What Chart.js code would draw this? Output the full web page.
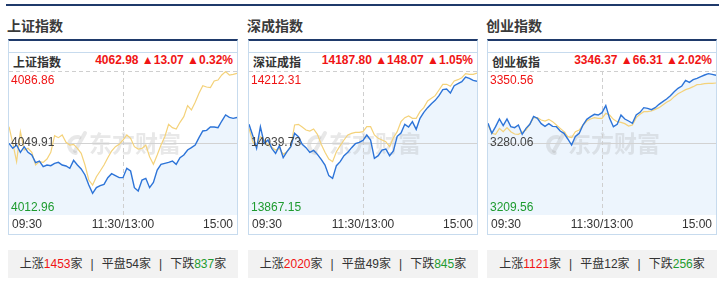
<!DOCTYPE html>
<html>
<head>
<meta charset="utf-8">
<script src="https://cdn.jsdelivr.net/npm/chart.js@4"></script>
<style>
    body { margin: 0; width: 719px; height: 289px; background: #fff; position: relative; overflow: hidden;
           font-family: "Liberation Sans", Arial, "Noto Sans CJK SC", sans-serif; color: #333; }
    #topline { position: absolute; left: 6px; top: 4px; width: 713px; height: 2px; background: #1f3a6b; }
    .block { position: absolute; top: 0; width: 230px; height: 289px; }
    .title { position: absolute; left: -1px; top: 14px; font: bold 14px "Noto Sans CJK SC", sans-serif; line-height: 22px; color: #3a3a3a; }
    .panel { position: absolute; left: 0; top: 39px; width: 230px; height: 196px; box-sizing: border-box;
             border: 1px solid #c7dbee; border-top: 2px solid #1f3a6b; }
    .inner { position: absolute; left: 0; right: 0; top: 11px; bottom: 0; border-top: 1px solid #c7dbee; }
    .head { position: absolute; left: 0; right: 0; top: 0; height: 18px; line-height: 18px; }
    .name { position: absolute; left: 4px; font: bold 12px "Noto Sans CJK SC", sans-serif; color: #333; }
    .quote { position: absolute; right: 4px; font: bold 12px "Liberation Sans", Arial, sans-serif; color: #f01414; }
    canvas { position: absolute; left: 0; top: 18px; }
    .foot { position: absolute; left: 0; top: 250px; width: 230px; height: 28px; line-height: 28px; background: #f2f2f2;
            text-align: center; font-size: 12px; color: #333; }
    .foot .up { color: #f01414; }
    .foot .down { color: #1e9b2f; }
    .foot .sep { margin: 0 8px; }
</style>
</head>
<body>
<div id="topline"></div>
<div id="blocks"></div>

<script>
// time axis: minutes of trading since 09:30 (lunch break removed)
const minutes = [0,4,8,12,16,20,24,28,32,36,40,44,48,52,56,60,64,68,72,76,80,84,88,92,96,100,104,108,112,116,
    120,124,128,132,136,140,144,148,152,156,160,164,168,172,176,180,184,188,192,196,200,204,208,212,216,220,224,228,232,236,240];
const xLabels = ['09:30', '11:30/13:00', '15:00'];

const titles = ['上证指数', '深成指数', '创业指数'];
const names = ['上证指数', '深证成指', '创业板指'];
const quotes = ['4062.98 ▲13.07 ▲0.32%', '14187.80 ▲148.07 ▲1.05%', '3346.37 ▲66.31 ▲2.02%'];
const upCounts = [1453, 2020, 1121];
const flatCounts = [54, 49, 12];
const downCounts = [837, 845, 256];

// [high, prev close, low]
const shTicks = [4086.86, 4049.91, 4012.96];
const szTicks = [14212.31, 14039.73, 13867.15];
const cyTicks = [3350.56, 3280.06, 3209.56];

const shIndex = [4049.74,4047.17,4048.88,4045.12,4048.03,4045.12,4043.75,4039.82,4040.67,4037.76,
    4038.62,4038.28,4039.47,4039.99,4038.62,4038.11,4036.91,4041.01,4038.62,4036.57,
    4033.49,4028.36,4024.08,4026.99,4028.01,4028.70,4032.12,4034.17,4033.14,4032.12,
    4032.12,4036.91,4035.54,4026.99,4025.28,4030.92,4031.78,4026.99,4029.72,4036.05,
    4038.96,4039.47,4039.99,4040.67,4038.96,4042.38,4043.75,4046.32,4047.52,4048.88,
    4052.65,4056.07,4056.41,4058.12,4058.12,4057.78,4061.20,4064.28,4063.08,4062.57,4062.98];
const shLead = [4058.29,4049.74,4040.33,4055.73,4046.32,4047.17,4045.12,4038.62,4040.33,4039.99,
    4041.70,4045.12,4053.67,4052.65,4054.02,4050.25,4048.88,4049.23,4047.17,4044.61,
    4038.62,4030.92,4028.36,4032.63,4035.54,4038.62,4042.38,4045.80,4048.03,4049.23,
    4051.45,4054.02,4052.31,4048.03,4046.83,4047.17,4048.88,4042.90,4038.96,4043.75,
    4048.88,4053.16,4059.49,4057.78,4057.09,4060.52,4063.42,4069.07,4066.85,4070.78,
    4075.40,4079.33,4078.65,4078.31,4081.73,4082.24,4084.81,4086.52,4084.81,4085.15,4085.66];

const szIndex = [14084.47,14057.31,14026.95,14078.88,14038.93,14046.92,14026.95,14014.96,14033.34,14004.57,
    14018.96,14030.94,14062.90,14054.91,14036.53,14028.54,14017.36,14022.15,14012.56,14000.58,
    13987.00,13961.43,13955.04,13985.40,13994.99,14009.37,14017.36,14028.54,14038.13,14041.33,
    14046.12,14058.91,14046.92,14002.98,14009.37,14022.95,14025.35,14009.37,14020.55,14055.71,
    14063.70,14084.47,14078.08,14090.87,14072.49,14098.86,14113.24,14124.42,14134.01,14142.00,
    14153.19,14167.57,14169.17,14159.58,14177.16,14181.95,14186.75,14197.93,14194.74,14189.94,14187.80];
const szLead = [14074.89,14042.93,14030.94,14054.91,14046.92,14034.94,14029.34,14022.95,14026.95,14012.56,
    14018.96,14030.94,14082.88,14084.47,14078.08,14070.89,14068.49,14073.29,14060.50,14036.53,
    14017.36,14001.38,13994.99,14018.96,14033.34,14046.92,14058.91,14062.90,14065.30,14065.30,
    14066.90,14078.88,14078.88,14058.91,14050.92,14046.92,14042.93,14030.94,14052.51,14066.90,
    14090.87,14100.45,14104.45,14098.86,14098.86,14114.84,14124.42,14140.40,14146.80,14153.19,
    14166.77,14180.35,14180.35,14175.56,14188.34,14191.54,14196.33,14205.92,14204.32,14204.32,14207.52];

const cyIndex = [3299.32,3289.53,3296.05,3303.56,3297.03,3303.56,3296.05,3295.07,3297.69,3288.55,
    3294.42,3298.34,3306.17,3304.21,3298.99,3296.38,3298.99,3296.38,3296.05,3291.81,
    3289.53,3283.98,3278.10,3286.59,3289.53,3297.69,3303.23,3305.85,3308.13,3307.48,
    3309.76,3316.62,3304.21,3296.05,3298.34,3307.48,3303.56,3301.60,3299.32,3307.48,
    3310.09,3314.66,3314.01,3312.70,3314.66,3317.92,3320.53,3323.14,3326.41,3330.33,
    3333.59,3335.87,3341.42,3339.46,3342.08,3343.38,3345.01,3346.65,3347.95,3347.30,3346.37];
const cyLead = [3297.69,3289.53,3288.55,3294.42,3291.16,3295.07,3291.16,3288.87,3288.55,3290.50,
    3292.79,3298.34,3304.87,3304.87,3302.58,3301.60,3303.23,3300.95,3297.69,3294.42,
    3291.16,3286.26,3285.28,3291.16,3292.79,3297.69,3301.60,3303.56,3304.87,3304.21,
    3304.21,3309.11,3307.48,3303.23,3300.95,3300.30,3298.99,3296.71,3297.69,3304.87,
    3308.13,3310.74,3310.74,3311.39,3313.03,3314.66,3317.27,3319.88,3321.84,3325.43,
    3328.37,3330.33,3332.28,3333.59,3335.22,3337.18,3337.51,3338.16,3338.49,3338.49,3338.81];

const panels = [
    { ticks: shTicks, index: shIndex, lead: shLead },
    { ticks: szTicks, index: szIndex, lead: szLead },
    { ticks: cyTicks, index: cyIndex, lead: cyLead }
];
const lefts = [8, 248, 487];

// build the static boxes
const host = document.getElementById('blocks');
panels.forEach((p, i) => {
    const b = document.createElement('div');
    b.className = 'block';
    b.style.left = lefts[i] + 'px';
    b.innerHTML =
        `<div class="title">${titles[i]}</div>` +
        `<div class="panel"><div class="inner">` +
        `<div class="head"><span class="name">${names[i]}</span><span class="quote">${quotes[i]}</span></div>` +
        `<canvas id="c${i}" width="228" height="162"></canvas></div></div>` +
        `<div class="foot">上涨<span class="up">${upCounts[i]}</span>家<span class="sep">|</span>` +
        `平盘${flatCounts[i]}家<span class="sep">|</span>下跌<span class="down">${downCounts[i]}</span>家</div>`;
    host.appendChild(b);
});

// grid, watermark and labels the way the quote site draws them
const framePlugin = {
    id: 'frame',
    beforeDatasetsDraw(chart) {
        const { ctx, chartArea: a, scales } = chart;
        const t = chart.options.plugins.frame.ticks;
        const yMid = scales.y.getPixelForValue(t[1]);
        ctx.save();
        // watermark (logo swoosh + name)
        ctx.fillStyle = 'rgba(150,150,150,0.22)';
        ctx.strokeStyle = 'rgba(150,150,150,0.22)';
        ctx.lineWidth = 4;
        ctx.lineCap = 'round';
        ctx.beginPath();
        ctx.arc(a.left + 68, yMid + 2, 8, Math.PI * 0.55, Math.PI * 1.6);
        ctx.stroke();
        ctx.beginPath();
        ctx.moveTo(a.left + 66, yMid + 8); ctx.lineTo(a.left + 76, yMid - 10);
        ctx.stroke();
        ctx.font = 'bold 23px "Noto Sans CJK SC"';
        ctx.textAlign = 'center';
        ctx.textBaseline = 'middle';
        ctx.fillText('东方财富', a.left + 126, yMid);
        // prev close
        ctx.strokeStyle = '#d2d2d2';
        ctx.lineWidth = 1;
        ctx.lineCap = 'butt';
        const yp = Math.round(yMid) + 0.5;
        ctx.beginPath(); ctx.moveTo(a.left, yp); ctx.lineTo(a.right, yp); ctx.stroke();
        // dashed top + midday
        ctx.setLineDash([4, 3]);
        ctx.strokeStyle = '#cfcfcf';
        ctx.beginPath(); ctx.moveTo(a.left, a.top + 0.5); ctx.lineTo(a.right, a.top + 0.5); ctx.stroke();
        const xm = Math.round(scales.x.getPixelForValue(30)) + 0.5;
        ctx.beginPath(); ctx.moveTo(xm, a.top); ctx.lineTo(xm, a.bottom); ctx.stroke();
        ctx.restore();
    },
    afterDatasetsDraw(chart) {
        const { ctx, chartArea: a, scales } = chart;
        const t = chart.options.plugins.frame.ticks;
        ctx.save();
        ctx.font = '12px "Liberation Sans", Arial';
        ctx.textAlign = 'left';
        ctx.fillStyle = '#f01414';
        ctx.textBaseline = 'top';
        ctx.fillText(t[0].toFixed(2), a.left + 2, scales.y.getPixelForValue(t[0]) + 4);
        ctx.fillStyle = '#444';
        ctx.textBaseline = 'middle';
        ctx.fillText(t[1].toFixed(2), a.left + 2, scales.y.getPixelForValue(t[1]));
        ctx.fillStyle = '#1e9b2f';
        ctx.textBaseline = 'bottom';
        ctx.fillText(t[2].toFixed(2), a.left + 2, scales.y.getPixelForValue(t[2]) - 1);
        // time labels
        ctx.fillStyle = '#333';
        ctx.textBaseline = 'middle';
        const ly = a.bottom + 10;
        ctx.fillText(xLabels[0], a.left + 3, ly);
        ctx.textAlign = 'center';
        ctx.fillText(xLabels[1], scales.x.getPixelForValue(30), ly);
        ctx.textAlign = 'right';
        ctx.fillText(xLabels[2], a.right - 4, ly);
        ctx.restore();
    }
};

panels.forEach((p, i) => {
    const ctx = document.getElementById('c' + i).getContext('2d');
    new Chart(ctx, {
        type: 'line',
        data: {
            labels: minutes,
            datasets: [{
                data: p.index,
                borderColor: '#2d74d8',
                borderWidth: 1.4,
                backgroundColor: '#edf5fd',
                fill: 'start',
                pointRadius: 0,
                tension: 0
            }, {
                data: p.lead,
                borderColor: '#f4d27a',
                borderWidth: 1.2,
                fill: false,
                pointRadius: 0,
                tension: 0
            }]
        },
        options: {
            responsive: false,
            animation: false,
            events: [],
            layout: { padding: { left: 0, right: 0, top: 0, bottom: 18 } },
            plugins: {
                legend: { display: false },
                tooltip: { enabled: false },
                filler: { drawTime: 'beforeDatasetsDraw' },
                frame: { ticks: p.ticks }
            },
            scales: {
                x: { display: false },
                y: { display: false, min: p.ticks[2], max: p.ticks[0] }
            }
        },
        plugins: [framePlugin]
    });
});
</script>
</body>
</html>
